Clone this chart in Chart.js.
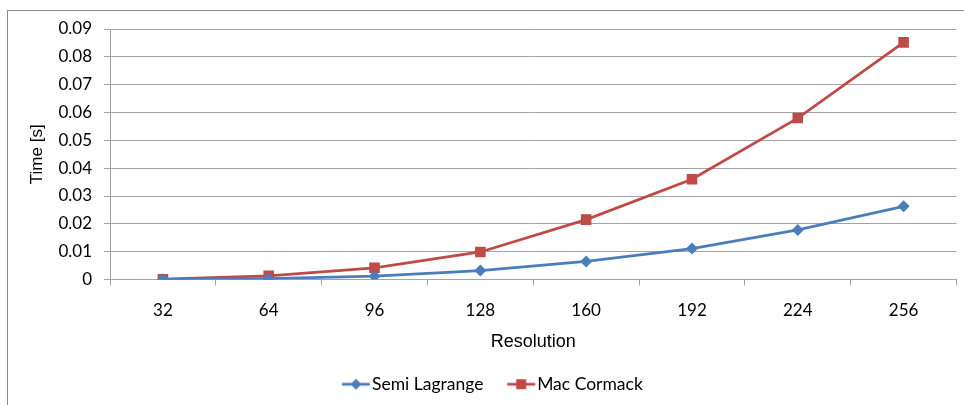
<!DOCTYPE html>
<html>
<head>
<meta charset="utf-8">
<script src="https://cdn.jsdelivr.net/npm/chart.js@4.4.1/dist/chart.umd.min.js"></script>
<style>
  html, body { margin: 0; padding: 0; background: #ffffff; }
  #wrap { position: relative; width: 964px; height: 405px; }
</style>
</head>
<body>
<div id="wrap"><canvas id="c" width="964" height="405"></canvas></div>
<script>
const categories = ['32', '64', '96', '128', '160', '192', '224', '256'];
const semiLagrange = [0.00005, 0.0003, 0.0012, 0.0032, 0.0065, 0.0111, 0.0178, 0.0263];
const macCormack = [0.0001, 0.0013, 0.0042, 0.0099, 0.0215, 0.0360, 0.0580, 0.0852];
const yTicks = [0, 0.01, 0.02, 0.03, 0.04, 0.05, 0.06, 0.07, 0.08, 0.09];
const seriesNames = ['Semi Lagrange', 'Mac Cormack'];

const BLUE = '#4A7EBB';
const RED = '#BE4B48';
const GRID = '#a3a3a3';
const LEG_FONT = 17.5;

function legendIcon(color, shape) {
  const W = 40, H = 14;
  const cv = document.createElement('canvas');
  cv.width = W; cv.height = H;
  const g = cv.getContext('2d');
  const x0 = W / 2 - 10.25, x1 = W / 2 + 17.75, cx = (x0 + x1) / 2, cy = 7;
  g.strokeStyle = color; g.lineWidth = 2.75;
  g.beginPath(); g.moveTo(x0, cy); g.lineTo(x1, cy); g.stroke();
  g.fillStyle = color;
  g.beginPath();
  if (shape === 'diamond') {
    g.moveTo(cx, cy - 5.5); g.lineTo(cx + 5.5, cy); g.lineTo(cx, cy + 5.5); g.lineTo(cx - 5.5, cy);
  } else {
    g.rect(cx - 5, cy - 5, 10, 10);
  }
  g.closePath(); g.fill();
  return cv;
}

const borderPlugin = {
  id: 'outerBorder',
  beforeDraw(chart) {
    const ctx = chart.ctx;
    ctx.save();
    ctx.strokeStyle = '#8c8c8c';
    ctx.lineWidth = 1;
    ctx.strokeRect(7.5, 10.5, chart.width + 10, chart.height + 10);
    ctx.restore();
  }
};

const icons = [legendIcon(BLUE, 'diamond'), legendIcon(RED, 'square')];

new Chart(document.getElementById('c'), {
  type: 'line',
  data: {
    labels: categories,
    datasets: [
      {
        label: seriesNames[0], data: semiLagrange,
        borderColor: BLUE, backgroundColor: BLUE, borderWidth: 2.75,
        pointStyle: 'rectRot', pointRadius: 6, pointHoverRadius: 6,
        pointBackgroundColor: BLUE, pointBorderColor: BLUE, pointBorderWidth: 0,
        tension: 0
      },
      {
        label: seriesNames[1], data: macCormack,
        borderColor: RED, backgroundColor: RED, borderWidth: 2.75,
        pointStyle: 'rect', pointRadius: 7.5, pointHoverRadius: 7.5,
        pointBackgroundColor: RED, pointBorderColor: RED, pointBorderWidth: 0,
        tension: 0
      }
    ]
  },
  options: {
    responsive: false,
    animation: false,
    events: [],
    layout: { padding: { top: 29, right: 5, bottom: 2, left: 25 } },
    plugins: {
      tooltip: { enabled: false },
      legend: {
        position: 'bottom',
        labels: {
          usePointStyle: true,
          pointStyleWidth: 22,
          padding: 23,
          color: '#000',
          font: { family: 'Lato', size: LEG_FONT },
          generateLabels(chart) {
            return chart.data.datasets.map((ds, i) => ({
              text: ds.label,
              pointStyle: icons[i],
              fillStyle: ds.borderColor,
              strokeStyle: ds.borderColor,
              lineWidth: 0,
              fontColor: '#000',
              datasetIndex: i,
              hidden: false
            }));
          }
        }
      }
    },
    scales: {
      x: {
        type: 'category',
        offset: true,
        grid: { offset: true, drawOnChartArea: false, drawTicks: true, tickLength: 6, color: GRID, lineWidth: 1 },
        border: { display: true, color: GRID, width: 1 },
        ticks: { color: '#000', font: { family: 'Lato', size: 17 }, padding: 15, maxRotation: 0, autoSkip: false },
        title: { display: true, text: 'Resolution', color: '#000', font: { family: 'Liberation Sans', size: 18 }, padding: { top: 6, bottom: 0 } },
        afterFit(scale) { scale.height = 73; }
      },
      y: {
        min: 0, max: 0.09,
        afterBuildTicks(scale) { scale.ticks = yTicks.map(v => ({ value: v })); },
        grid: { color: GRID, lineWidth: 1, drawTicks: true, tickLength: 6 },
        border: { display: true, color: GRID, width: 1 },
        ticks: {
          color: '#000', font: { family: 'Lato', size: 17 }, padding: 12,
          callback(v) { return v === 0 ? '0' : Number(v).toFixed(2); }
        },
        title: { display: true, text: 'Time [s]', color: '#000', font: { family: 'Liberation Sans', size: 17 }, padding: { top: 2, bottom: 0 } },
        afterFit(scale) { scale.width = 85; }
      }
    }
  },
  plugins: [borderPlugin]
});
</script>
</body>
</html>
